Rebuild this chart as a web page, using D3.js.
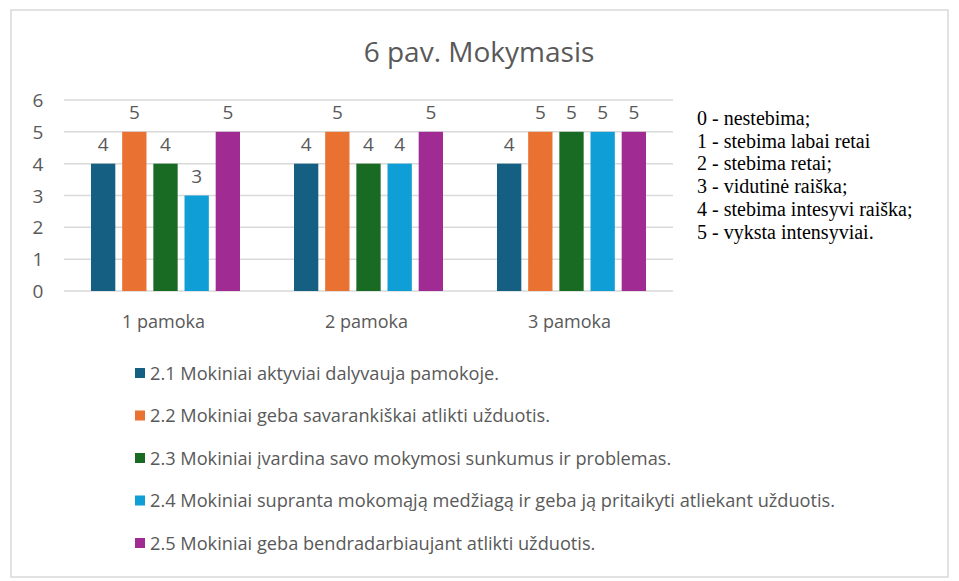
<!DOCTYPE html>
<html>
<head>
<meta charset="utf-8">
<script src="https://cdn.jsdelivr.net/npm/d3@7"></script>
<style>
  body { margin: 0; background: #fff; }
  svg text { font-family: "Open Sans", "Noto Sans", sans-serif; }
</style>
</head>
<body>
<div id="chart"></div>
<script>
var categories = ['1 pamoka', '2 pamoka', '3 pamoka'];
var seriesNames = [
  '2.1 Mokiniai aktyviai dalyvauja pamokoje.',
  '2.2 Mokiniai geba savarankiškai atlikti užduotis.',
  '2.3 Mokiniai įvardina savo mokymosi sunkumus ir problemas.',
  '2.4 Mokiniai supranta mokomąją medžiagą ir geba ją pritaikyti atliekant užduotis.',
  '2.5 Mokiniai geba bendradarbiaujant atlikti užduotis.'
];
// values per series, one per lesson
var s21 = [4, 4, 4];
var s22 = [5, 5, 5];
var s23 = [4, 4, 5];
var s24 = [3, 4, 5];
var s25 = [5, 5, 5];
var seriesColors = ['#156082', '#E97132', '#196B24', '#0F9ED5', '#A02B93'];
var yTicks = [0, 1, 2, 3, 4, 5, 6];
var scaleNotes = [
  '0 - nestebima;',
  '1 - stebima labai retai',
  '2 - stebima retai;',
  '3 - vidutinė raiška;',
  '4 - stebima intesyvi raiška;',
  '5 - vyksta intensyviai.'
];

var allSeries = [s21, s22, s23, s24, s25];
var width = 959, height = 581;
var textColor = '#595959';

var svg = d3.select('#chart').append('svg')
  .attr('width', width).attr('height', height);

// chart frame
svg.append('rect')
  .attr('x', 11).attr('y', 10)
  .attr('width', 937).attr('height', 567)
  .attr('fill', '#fff')
  .attr('stroke', '#d9d9d9').attr('stroke-width', 1.5);

svg.append('text')
  .attr('x', 479).attr('y', 62)
  .attr('text-anchor', 'middle')
  .attr('font-size', 28)
  .attr('fill', textColor)
  .text('6 pav. Mokymasis');

var plotLeft = 64, plotRight = 673, plotTop = 100, plotBottom = 291;

var y = d3.scaleLinear().domain([0, 6]).range([plotBottom, plotTop]);
var x0 = d3.scaleBand().domain(categories).range([plotLeft, plotRight]);
var x1 = d3.scaleBand().domain(d3.range(seriesNames.length))
  .range([27, x0.bandwidth() - 27]).paddingInner(0.22);

// gridlines
svg.append('g').selectAll('line')
  .data(yTicks)
  .enter().append('line')
  .attr('x1', plotLeft).attr('x2', plotRight)
  .attr('y1', function (d) { return y(d); })
  .attr('y2', function (d) { return y(d); })
  .attr('stroke', '#d9d9d9').attr('stroke-width', 1.5);

// y axis labels
svg.append('g').selectAll('text')
  .data(yTicks)
  .enter().append('text')
  .attr('x', 38)
  .attr('y', function (d) { return y(d) + 7; })
  .attr('text-anchor', 'middle')
  .attr('font-size', 19)
  .attr('fill', textColor)
  .text(function (d) { return d; });

// category labels
svg.append('g').selectAll('text')
  .data(categories)
  .enter().append('text')
  .attr('x', function (d) { return x0(d) + x0.bandwidth() / 2 - 2; })
  .attr('y', 328)
  .attr('text-anchor', 'middle')
  .attr('font-size', 18)
  .attr('fill', textColor)
  .text(function (d) { return d; });

// bars
var groups = svg.append('g').selectAll('g')
  .data(categories)
  .enter().append('g')
  .attr('transform', function (d) { return 'translate(' + x0(d) + ',0)'; });

var cells = groups.selectAll('g')
  .data(function (d, ci) {
    return allSeries.map(function (s, si) { return { si: si, v: s[ci] }; });
  })
  .enter().append('g');

cells.append('rect')
  .attr('x', function (d) { return x1(d.si); })
  .attr('width', x1.bandwidth())
  .attr('y', function (d) { return y(d.v); })
  .attr('height', function (d) { return plotBottom - y(d.v); })
  .attr('fill', function (d) { return seriesColors[d.si]; });

cells.append('text')
  .attr('x', function (d) { return x1(d.si) + x1.bandwidth() / 2; })
  .attr('y', function (d) { return y(d.v) - 13; })
  .attr('text-anchor', 'middle')
  .attr('font-size', 19)
  .attr('fill', textColor)
  .text(function (d) { return d.v; });

// legend
var legend = svg.append('g').selectAll('g')
  .data(seriesNames)
  .enter().append('g')
  .attr('transform', function (d, i) { return 'translate(135,' + (373 + i * 42.5) + ')'; });

legend.append('rect')
  .attr('x', 0).attr('y', -5)
  .attr('width', 10).attr('height', 10)
  .attr('fill', function (d, i) { return seriesColors[i]; });

legend.append('text')
  .attr('x', 15).attr('y', 6.5)
  .attr('font-size', 18.2)
  .attr('fill', textColor)
  .text(function (d) { return d; });

// scale description on the right
svg.append('g').selectAll('text')
  .data(scaleNotes)
  .enter().append('text')
  .attr('x', 697)
  .attr('y', function (d, i) { return 125 + i * 22.7; })
  .attr('font-size', 20)
  .style('font-family', '"Liberation Serif", "Times New Roman", serif')
  .attr('fill', '#000')
  .text(function (d) { return d; });
</script>
</body>
</html>
